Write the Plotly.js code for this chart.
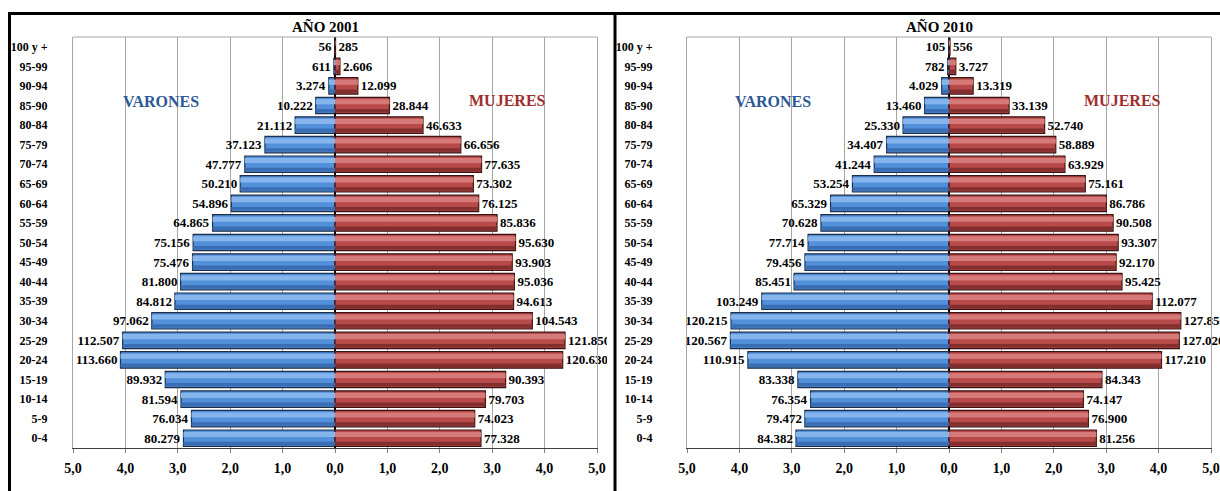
<!DOCTYPE html>
<html>
<head>
<meta charset="utf-8">
<script src="https://cdn.plot.ly/plotly-3.0.1.min.js"></script>
<style>html,body{margin:0;padding:0;background:#fff;}#chart{width:1220px;height:491px;}</style>
</head>
<body>
<div id="chart"></div>
<script>
// ---- DATA ----
const ageGroups = ["0-4","5-9","10-14","15-19","20-24","25-29","30-34","35-39","40-44","45-49","50-54","55-59","60-64","65-69","70-74","75-79","80-84","85-90","90-94","95-99","100 y +"];
const men2001   = [80279,76034,81594,89932,113660,112507,97062,84812,81800,75476,75156,64865,54896,50210,47777,37123,21112,10222,3274,611,56];
const women2001 = [77328,74023,79703,90393,120630,121850,104543,94613,95036,93903,95630,85836,76125,73302,77635,66656,46633,28844,12099,2606,285];
const men2010   = [84382,79472,76354,83338,110915,120567,120215,103249,85451,79456,77714,70628,65329,53254,41244,34407,25330,13460,4029,782,105];
const women2010 = [81256,76900,74147,84343,117210,127020,127850,112077,95425,92170,93307,90508,86786,75161,63929,58889,52740,33139,13319,3727,556];
const xTickVals = [-5,-4,-3,-2,-1,0,1,2,3,4,5];
const xTickText = ["5,0","4,0","3,0","2,0","1,0","0,0","1,0","2,0","3,0","4,0","5,0"];
const panelTitles = ["AÑO 2001","AÑO 2010"];
const sexLabels = ["VARONES","MUJERES"];

// ---- HELPERS ----
const W = 1220, H = 491;
const px = v => v / W;
const py = v => 1 - v / H;
const fmt = n => String(n).replace(/\B(?=(\d{3})+(?!\d))/g, ".");
const sum = a => a.reduce((s, v) => s + v, 0);
const serif = "Liberation Serif";

const palette = {
  men:   {base: "#5390DA", light: "#86B5EE", dark: "#3A6EB4", line: "#1C2E4A"},
  women: {base: "#B84A49", light: "#D67A79", dark: "#832F2E", line: "#3A1212"}
};

function makeTraces(men, women, xa, ya) {
  const total = sum(men) + sum(women);
  const series = [
    {vals: men.map(v => -v / total * 100), text: men.map(fmt), c: palette.men},
    {vals: women.map(v => v / total * 100), text: women.map(fmt), c: palette.women}
  ];
  const out = [];
  const common = {type: "bar", orientation: "h", y: ageGroups, xaxis: xa, yaxis: ya,
                  hoverinfo: "skip", showlegend: false, cliponaxis: false};
  series.forEach(s => {
    out.push(Object.assign({}, common, {
      x: s.vals, text: s.text, width: 0.84, offset: -0.42,
      textposition: "outside", constraintext: "none",
      textfont: {family: serif, size: 13, color: "#000", weight: "bold"},
      marker: {color: s.c.base, line: {color: s.c.line, width: 1.2}}
    }));
  });
  series.forEach(s => {
    out.push(Object.assign({}, common, {
      x: s.vals, width: 0.26, offset: 0.06, textposition: "none",
      marker: {color: s.c.light, line: {width: 0}}
    }));
    out.push(Object.assign({}, common, {
      x: s.vals, width: 0.18, offset: -0.36, textposition: "none",
      marker: {color: s.c.dark, line: {width: 0}}
    }));
  });
  return out;
}

const data = [
  ...makeTraces(men2001, women2001, "x", "y"),
  ...makeTraces(men2010, women2010, "x2", "y2")
];

const yDom = [py(448), py(37)];
function xAxis(dom, anchor) {
  return {
    domain: dom, anchor: anchor, range: [-5, 5], fixedrange: true,
    tickvals: xTickVals, ticktext: xTickText,
    tickfont: {family: serif, size: 14, color: "#000", weight: "bold"},
    showgrid: true, gridcolor: "#A6A6A6", gridwidth: 1,
    zeroline: true, zerolinecolor: "#000", zerolinewidth: 2,
    showline: true, linecolor: "#404040", linewidth: 1,
    ticks: "outside", ticklen: 4, tickcolor: "#808080", ticklabelstandoff: 3
  };
}
function yAxis(anchor, standoff) {
  return {
    domain: yDom, anchor: anchor, type: "category", categoryarray: ageGroups,
    tickfont: {family: serif, size: 12, color: "#000", weight: "bold"},
    showgrid: false, zeroline: false, showline: true, mirror: true,
    linecolor: "#A6A6A6", linewidth: 1, ticks: "", ticklabelstandoff: standoff, fixedrange: true
  };
}

const leftDom = [px(73), px(597)];
const rightDom = [px(687), px(1211)];

const shapes = [
  {type: "line", xref: "paper", yref: "paper", x0: leftDom[0], x1: leftDom[1], y0: yDom[1], y1: yDom[1], line: {color: "#A6A6A6", width: 1}},
  {type: "line", xref: "paper", yref: "paper", x0: rightDom[0], x1: rightDom[1], y0: yDom[1], y1: yDom[1], line: {color: "#A6A6A6", width: 1}},
  {type: "rect", xref: "paper", yref: "paper", x0: px(607), x1: px(614), y0: 0, y1: py(13), layer: "above", fillcolor: "#fff", line: {width: 0}},
  {type: "line", xref: "paper", yref: "paper", x0: px(8), x1: 1, y0: py(13.5), y1: py(13.5), layer: "above", line: {color: "#000", width: 3}},
  {type: "line", xref: "paper", yref: "paper", x0: px(9.5), x1: px(9.5), y0: 0, y1: py(12), layer: "above", line: {color: "#000", width: 3}},
  {type: "line", xref: "paper", yref: "paper", x0: px(615), x1: px(615), y0: 0, y1: py(12), layer: "above", line: {color: "#000", width: 3}}
];

const titleFont = {family: serif, size: 15, color: "#000", weight: "bold"};
const menFont = {family: serif, size: 16, color: "#2C5896", weight: "bold"};
const womenFont = {family: serif, size: 16, color: "#9E2F2F", weight: "bold"};
const annotations = [
  {text: panelTitles[0], x: px(325), y: py(27), font: titleFont},
  {text: panelTitles[1], x: px(939), y: py(27), font: titleFont},
  {text: sexLabels[0], x: px(161), y: py(101), font: menFont},
  {text: sexLabels[1], x: px(507), y: py(100), font: womenFont},
  {text: sexLabels[0], x: px(773), y: py(101), font: menFont},
  {text: sexLabels[1], x: px(1122), y: py(100), font: womenFont}
].map(a => Object.assign({xref: "paper", yref: "paper", xanchor: "center", yanchor: "middle", showarrow: false}, a));

const layout = {
  width: W, height: H,
  margin: {l: 0, r: 0, t: 0, b: 0},
  paper_bgcolor: "#fff", plot_bgcolor: "#fff",
  barmode: "overlay",
  xaxis: xAxis(leftDom, "y"),
  yaxis: yAxis("x", 22),
  xaxis2: xAxis(rightDom, "y2"),
  yaxis2: yAxis("x2", 31),
  shapes: shapes,
  annotations: annotations
};

Plotly.newPlot("chart", data, layout, {displayModeBar: false, staticPlot: true});
</script>
</body>
</html>
